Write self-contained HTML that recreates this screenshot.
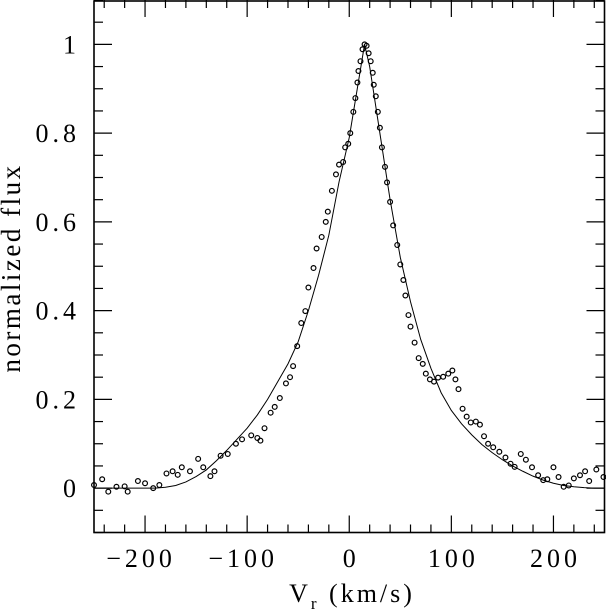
<!DOCTYPE html>
<html><head><meta charset="utf-8"><style>
html,body{margin:0;padding:0;background:#fff;}
svg{display:block;font-family:"Liberation Serif",serif;}
</style></head><body>
<svg id="chart" width="606" height="611" viewBox="0 0 606 611" xmlns="http://www.w3.org/2000/svg">
<g id="ticks"></g>
<g id="labels"></g>
<path id="model" fill="none" stroke="#000" stroke-width="1"/>
<g id="pts"></g>
<rect x="94" y="1" width="510.5" height="531.5" fill="none" stroke="#000" stroke-width="1.6"/>
<text x="352" y="602" font-size="26" letter-spacing="3" text-anchor="middle">V<tspan font-size="17" dy="7">r</tspan><tspan dy="-7"> (km/s)</tspan></text>
<text x="0" y="0" font-size="27" letter-spacing="2.5" text-anchor="middle" transform="translate(20,268) rotate(-90)">normalized flux</text>
</svg>
<script>
const xTicksMajor = [-200,-100,0,100,200];
const yTicksMajor = [0,0.2,0.4,0.6,0.8,1];
const yTickLabels = ["0","0.2","0.4","0.6","0.8","1"];
const xTickLabels = ["\u2212200","\u2212100","0","100","200"];
const obsV = [-250,-242,-236,-228,-220,-217,-207,-200,-192,-186,-179,-173,-168,-164,-156,-148,-143,-136,-132,-126,-119,-111,-105,-96,-90,-87,-83,-77,-73,-68,-62,-58,-55,-51,-47,-43,-40,-35,-32,-27,-23,-21,-17,-13,-10,-6,-4,-1,1,4,6,8,9,11,13,15,17,19,21,23,24,26,28,30,32,35,37,40,43,47,50,53,55,58,60,64,68,72,75,79,83,87,92,97,101,104,107,111,115,119,124,128,132,136,141,147,153,158,162,168,173,179,185,190,194,200,205,210,215,220,226,231,235,242,249];
const obsF = [0.007,0.02,-0.008,0.003,0.004,-0.008,0.016,0.011,0.0,0.007,0.033,0.038,0.03,0.047,0.038,0.066,0.047,0.027,0.038,0.073,0.077,0.10,0.11,0.119,0.113,0.107,0.135,0.17,0.183,0.203,0.236,0.25,0.275,0.32,0.372,0.399,0.452,0.496,0.54,0.566,0.60,0.623,0.67,0.707,0.729,0.735,0.768,0.776,0.80,0.848,0.879,0.914,0.94,0.962,0.989,1.0,0.997,0.98,0.962,0.936,0.909,0.883,0.848,0.812,0.768,0.724,0.689,0.645,0.592,0.548,0.504,0.469,0.434,0.39,0.364,0.328,0.293,0.28,0.258,0.245,0.24,0.249,0.251,0.258,0.265,0.245,0.223,0.179,0.161,0.148,0.15,0.143,0.117,0.10,0.092,0.082,0.069,0.055,0.048,0.077,0.064,0.047,0.029,0.018,0.02,0.047,0.025,0.003,0.006,0.022,0.029,0.038,0.016,0.042,0.025];
const modelV = [-250,-240,-230,-220,-210,-200,-190,-180,-170,-160,-150,-140,-130,-120,-110,-100,-90,-80,-70,-60,-50,-40,-30,-20,-10,0,10,15,20,30,40,50,60,70,80,90,100,110,120,130,140,150,160,170,180,190,200,210,220,230,240,250];
const modelF = [0,0,0,0,0,0,0,0.002,0.006,0.014,0.026,0.041,0.062,0.085,0.11,0.135,0.165,0.2,0.24,0.28,0.33,0.4,0.48,0.57,0.69,0.79,0.93,1.0,0.95,0.8,0.65,0.52,0.42,0.335,0.27,0.215,0.175,0.145,0.12,0.098,0.08,0.064,0.05,0.038,0.027,0.018,0.011,0.006,0.003,0.001,0,0];

const X0=94, X1=604.5, Y0=532.5, Y1=0;
const xs = v => X0 + (v + 250) / 500 * (X1 - X0);
const ys = f => Y0 - (f + 0.1) / 1.2 * (Y0 - Y1);
const NS='http://www.w3.org/2000/svg';
const tg=document.getElementById('ticks'), lg=document.getElementById('labels'), pg=document.getElementById('pts');
function line(x1,y1,x2,y2,name){const l=document.createElementNS(NS,'line');
l.setAttribute('x1',x1);l.setAttribute('y1',y1);l.setAttribute('x2',x2);l.setAttribute('y2',y2);
l.setAttribute('stroke','#000');l.setAttribute('stroke-width','1.2');


tg.appendChild(l);}
for(let v=-240; v<=240; v+=20){
  const major = v%100===0; const L = major?17:8; const x=xs(v);
  line(x,Y0,x,Y0-L,'x-tick'); line(x,Y1,x,Y1+L,'x-tick-top');
}
for(let k=-2;k<=22;k++){
  const f=k*0.05; const major = k%4===0; const L = major?18:9; const y=ys(f);
  line(X0,y,X0+L,y,'y-tick'); line(X1,y,X1-L,y,'y-tick-right');
}
xTicksMajor.forEach((v,i)=>{const t=document.createElementNS(NS,'text');
t.setAttribute('x',xs(v)-(v<0?6:0)+2);t.setAttribute('y',567);t.setAttribute('font-size','26');t.setAttribute('letter-spacing','4');t.setAttribute('text-anchor','middle');
t.textContent=xTickLabels[i];


lg.appendChild(t);});
yTicksMajor.forEach((f,i)=>{const t=document.createElementNS(NS,'text');
t.setAttribute('x',80);t.setAttribute('y',ys(f)+9);t.setAttribute('font-size','26');t.setAttribute('letter-spacing','4');t.setAttribute('text-anchor','end');
t.textContent=yTickLabels[i];


lg.appendChild(t);});
let d='';
modelV.forEach((v,i)=>{d+=(i?'L':'M')+xs(v).toFixed(2)+','+ys(modelF[i]).toFixed(2);});
document.getElementById('model').setAttribute('d',d);
obsV.forEach((v,i)=>{const c=document.createElementNS(NS,'circle');
c.setAttribute('cx',xs(v));c.setAttribute('cy',ys(obsF[i]));c.setAttribute('r','2.4');
c.setAttribute('fill','none');c.setAttribute('stroke','#000');c.setAttribute('stroke-width','1.2');


pg.appendChild(c);});
</script>
</body></html>
